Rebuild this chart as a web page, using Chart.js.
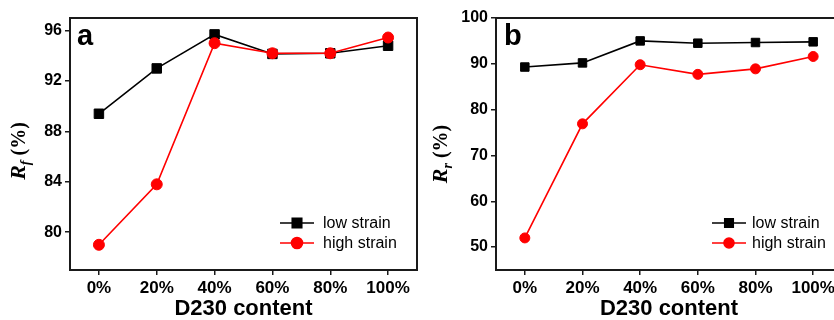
<!DOCTYPE html>
<html>
<head>
<meta charset="utf-8">
<script src="https://cdn.jsdelivr.net/npm/chart.js@4.4.0/dist/chart.umd.min.js"></script>
<style>
  html, body { margin: 0; padding: 0; background: #fff; overflow: hidden; }
  #wrap { position: relative; width: 834px; height: 320px; overflow: hidden; }
  canvas { position: absolute; top: 0; }
  #chartA { left: 0; }
  #chartB { left: 417px; }
</style>
</head>
<body>
<div id="wrap">
  <canvas id="chartA" width="440" height="320"></canvas>
  <canvas id="chartB" width="440" height="320"></canvas>
</div>
<script>
// D230 content on the x axis
const contents = ["0%", "20%", "40%", "60%", "80%", "100%"];
const seriesNames = ["low strain", "high strain"];

// panel a: shape fixity Rf (%)
const rfLow = [89.4, 93.0, 95.7, 94.15, 94.2, 94.8];
const rfHigh = [79.0, 83.8, 95.0, 94.2, 94.2, 95.45];
const rfTicks = [80, 84, 88, 92, 96];

// panel b: shape recovery Rr (%)
const rrLow = [89.3, 90.2, 95.0, 94.5, 94.65, 94.8];
const rrHigh = [52.0, 76.9, 89.8, 87.7, 88.9, 91.6];
const rrTicks = [50, 60, 70, 80, 90, 100];

const sans = '"Liberation Sans", Arial, sans-serif';
const serif = '"Liberation Serif", "Times New Roman", serif';

// frame, panel letter, rotated y title with subscript, and the inset legend
const panelDecor = {
  id: "panelDecor",
  afterDraw(chart, args, opts) {
    const { ctx, chartArea: a } = chart;
    ctx.save();
    ctx.strokeStyle = "#1a1a1a";
    ctx.lineWidth = 2;
    ctx.strokeRect(a.left, a.top, a.right - a.left, a.bottom - a.top);

    ctx.fillStyle = "#000";
    ctx.textAlign = "left";
    ctx.textBaseline = "alphabetic";
    ctx.font = "bold 29px " + sans;
    ctx.fillText(opts.letter, a.left + opts.letterDx, a.top + 27);

    // y title: R_sub (%)
    ctx.save();
    ctx.translate(opts.titleX, opts.titleY);
    ctx.rotate(-Math.PI / 2);
    const fR = "italic bold 22px " + serif;
    const fSub = "italic bold 14px " + serif;
    const fPct = "bold 20px " + serif;
    ctx.font = fR; const wR = ctx.measureText("R").width;
    ctx.font = fSub; const wS = ctx.measureText(opts.sub).width;
    ctx.font = fPct; const wP = ctx.measureText("(%)").width;
    let x = -(wR + wS + 5 + wP) / 2;
    ctx.font = fR; ctx.fillText("R", x, 0);
    x += wR;
    ctx.font = fSub; ctx.fillText(opts.sub, x, 5);
    x += wS + 5;
    ctx.font = fPct; ctx.fillText("(%)", x, 0);
    ctx.restore();

    // legend
    ctx.font = "16px " + sans;
    ctx.textBaseline = "middle";
    [0, 1].forEach((i, row) => {
      const ds = chart.data.datasets.find(d => d.label === seriesNames[i]);
      const y = opts.legendY + row * 20;
      ctx.strokeStyle = ds.borderColor;
      ctx.lineWidth = ds.borderWidth;
      ctx.beginPath();
      ctx.moveTo(opts.legendX, y);
      ctx.lineTo(opts.legendX + 34, y);
      ctx.stroke();
      ctx.fillStyle = ds.backgroundColor;
      Chart.helpers.drawPoint(ctx, {
        pointStyle: ds.pointStyle, radius: ds.pointRadius, rotation: 0, borderWidth: 1
      }, opts.legendX + 17, y);
      ctx.fillStyle = "#000";
      ctx.fillText(ds.label, opts.textX, y + 1);
    });
    ctx.restore();
  }
};

function makePanel(id, lows, highs, yTicks, yMin, yMax, axisWidth, rightPad, sq, dot, decor) {
  return new Chart(document.getElementById(id), {
    type: "line",
    data: {
      labels: contents,
      datasets: [
        {
          label: seriesNames[1], data: highs, order: 0,
          borderColor: "#ff0000", backgroundColor: "#ff0000",
          borderWidth: 1.6, pointStyle: "circle", pointRadius: dot,
          pointBorderWidth: 1, tension: 0
        },
        {
          label: seriesNames[0], data: lows, order: 1,
          borderColor: "#000", backgroundColor: "#000",
          borderWidth: 1.6, pointStyle: "rect", pointRadius: sq,
          pointBorderWidth: 1, tension: 0
        }
      ]
    },
    options: {
      responsive: false,
      animation: false,
      devicePixelRatio: 1,
      layout: { padding: { top: 18, right: rightPad, left: 0, bottom: 0 } },
      plugins: {
        legend: { display: false },
        tooltip: { enabled: false },
        panelDecor: decor
      },
      scales: {
        x: {
          type: "category",
          offset: true,
          grid: { display: true, offset: false, drawOnChartArea: false, drawTicks: true, tickLength: 5, color: "#1a1a1a", lineWidth: 1.5 },
          border: { display: false },
          ticks: { color: "#000", padding: 3, maxRotation: 0, font: { family: sans, size: 17, weight: "bold" } },
          title: { display: true, text: "D230 content", color: "#000", padding: 0, font: { family: sans, size: 22, weight: "bold", lineHeight: 1 } },
          afterFit: s => { s.height = 50; }
        },
        y: {
          min: yMin, max: yMax,
          grid: { display: true, drawOnChartArea: false, drawTicks: true, tickLength: 5, color: "#1a1a1a", lineWidth: 1.5 },
          border: { display: false },
          ticks: { color: "#000", padding: 3, font: { family: sans, size: 16, weight: "bold" } },
          afterBuildTicks: s => { s.ticks = yTicks.map(v => ({ value: v })); },
          afterFit: s => { s.width = axisWidth; }
        }
      }
    },
    plugins: [panelDecor]
  });
}

makePanel("chartA", rfLow, rfHigh, rfTicks, 77, 97, 70, 23, 6.7, 5.5,
  { letter: "a", letterDx: 7, sub: "f", titleX: 25, titleY: 151, legendX: 280, textX: 323, legendY: 223 });
makePanel("chartB", rrLow, rrHigh, rrTicks, 45, 100, 79, 15, 6, 5,
  { letter: "b", letterDx: 8, sub: "r", titleX: 30, titleY: 154, legendX: 295, textX: 335, legendY: 223 });
</script>
</body>
</html>
